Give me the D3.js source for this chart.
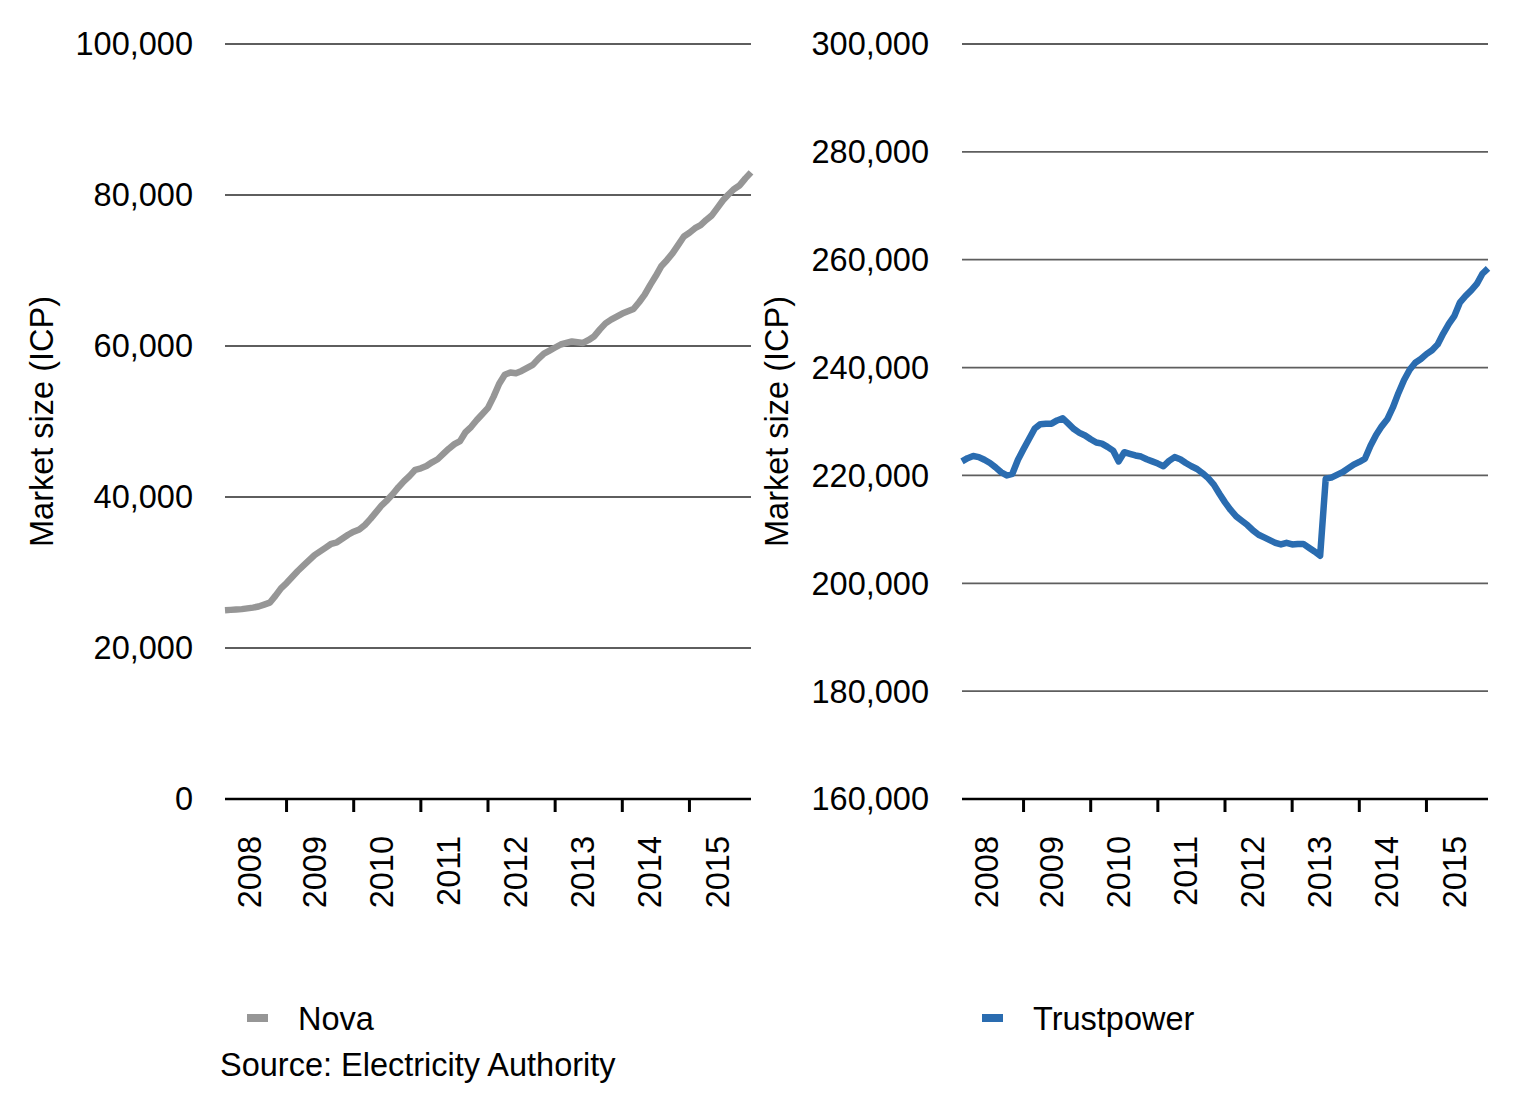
<!DOCTYPE html>
<html>
<head>
<meta charset="utf-8">
<script src="https://cdn.jsdelivr.net/npm/d3@7"></script>
<style>
  html, body { margin: 0; padding: 0; background: #ffffff; }
  svg { display: block; }
  text { font-family: "Liberation Sans", Arial, Helvetica, sans-serif; fill: #000; }
</style>
</head>
<body>
<svg id="chart" width="1517" height="1108"></svg>
<script>
// ---------------- DATA ----------------
// Monthly observations, Feb 2008 .. Dec 2015 (95 months)
const startMonth = new Date(2008, 1, 1);
const endMonthExclusive = new Date(2016, 0, 1);
const years = [2008, 2009, 2010, 2011, 2012, 2013, 2014, 2015];

const novaTicks = [0, 20000, 40000, 60000, 80000, 100000];
const trustTicks = [160000, 180000, 200000, 220000, 240000, 260000, 280000, 300000];

const novaValues = [
  25000,25050,25100,25150,25250,25350,25500,25750,26000,26900,
  27900,28600,29400,30200,30900,31600,32300,32800,33300,33800,
  34000,34500,35000,35400,35700,36300,37100,38000,38900,39600,
  40400,41300,42100,42800,43600,43800,44100,44600,45000,45700,
  46400,47000,47400,48600,49300,50200,51000,51800,53300,55000,
  56200,56500,56400,56700,57100,57500,58300,59000,59400,59800,
  60200,60400,60600,60500,60400,60800,61300,62200,63000,63500,
  63900,64300,64600,64900,65800,66800,68100,69300,70600,71400,
  72300,73400,74500,75000,75600,76000,76700,77300,78300,79300,
  80100,80800,81300,82200,83000
];

const trustValues = [
  222600,223200,223600,223400,222900,222300,221500,220600,220000,220300,
  222900,224900,226800,228700,229500,229600,229600,230200,230600,229600,
  228600,227900,227400,226700,226100,225900,225300,224600,222600,224300,
  224000,223700,223500,223000,222600,222200,221700,222700,223400,223000,
  222300,221700,221200,220400,219500,218300,216600,215000,213600,212400,
  211600,210800,209800,209000,208500,208000,207500,207200,207500,207200,
  207300,207300,206600,205900,205100,219400,219600,220100,220600,221300,
  222000,222500,223100,225500,227500,229100,230400,232600,235300,237700,
  239600,240900,241600,242500,243200,244300,246300,248100,249600,252100,
  253300,254300,255500,257400,258400
];

const seriesNames = ["Nova", "Trustpower"];
const sourceText = "Source: Electricity Authority";
const yTitle = "Market size (ICP)";

// ---------------- DRAW ----------------
const months = d3.timeMonth.range(startMonth, endMonthExclusive);
const svg = d3.select("#chart");
const FONT = 32.5;
const fmt = d3.format(",");

function drawPanel(opt) {
  const g = svg.append("g");
  const x = d3.scaleLinear().domain([0, months.length - 1]).range([opt.x0, opt.x1]);
  const y = d3.scaleLinear().domain(opt.domain).range([799, 44]);

  // gridlines
  g.selectAll("line.grid").data(opt.ticks.filter(t => t !== opt.domain[0]))
    .join("line")
    .attr("x1", opt.x0).attr("x2", opt.x1)
    .attr("y1", d => y(d)).attr("y2", d => y(d))
    .attr("stroke", "#5e5e5e").attr("stroke-width", 1.8);

  // y tick labels
  g.selectAll("text.ylab").data(opt.ticks)
    .join("text")
    .attr("x", opt.labelX).attr("y", d => y(d))
    .attr("dy", "0.35em")
    .attr("text-anchor", "end")
    .style("font-size", FONT + "px")
    .text(d => fmt(d));

  // y title
  g.append("text")
    .attr("transform", `translate(${opt.titleX},${(44 + 799) / 2}) rotate(-90)`)
    .attr("text-anchor", "middle")
    .attr("dy", "0.35em")
    .style("font-size", FONT + "px")
    .text(yTitle);

  // x axis line
  g.append("line")
    .attr("x1", opt.x0).attr("x2", opt.x1)
    .attr("y1", y(opt.domain[0])).attr("y2", y(opt.domain[0]))
    .attr("stroke", "#000").attr("stroke-width", 2.5);

  // year ticks at January
  const janIdx = months.map((m, i) => m.getMonth() === 0 ? i : -1).filter(i => i > 0);
  g.selectAll("line.tick").data(janIdx)
    .join("line")
    .attr("x1", d => x(d)).attr("x2", d => x(d))
    .attr("y1", 799).attr("y2", 812)
    .attr("stroke", "#000").attr("stroke-width", 3);

  // year labels centred under each year's months
  g.selectAll("text.year").data(years)
    .join("text")
    .attr("transform", yr => {
      const idx = months.map((m, i) => m.getFullYear() === yr ? i : -1).filter(i => i >= 0);
      const mid = (idx[0] + idx[idx.length - 1]) / 2;
      return `translate(${x(mid) - 3},836) rotate(-90)`;
    })
    .attr("text-anchor", "end")
    .attr("dy", "0.35em")
    .style("font-size", FONT + "px")
    .text(d => d);

  // line
  const line = d3.line().x((d, i) => x(i)).y(d => y(d));
  g.append("path")
    .datum(opt.values)
    .attr("d", line)
    .attr("fill", "none")
    .attr("stroke", opt.color)
    .attr("stroke-width", 6.5)
    .attr("stroke-linejoin", "round");

  // legend
  g.append("rect")
    .attr("x", opt.legendX).attr("y", 1014)
    .attr("width", 21).attr("height", 8)
    .attr("fill", opt.color);
  g.append("text")
    .attr("x", opt.legendX + 51).attr("y", 1030)
    .style("font-size", FONT + "px")
    .text(opt.name);
}

drawPanel({
  x0: 225, x1: 751, domain: [0, 100000], ticks: novaTicks,
  values: novaValues, color: "#969696", labelX: 193, titleX: 42,
  legendX: 247, name: seriesNames[0]
});

drawPanel({
  x0: 962, x1: 1488, domain: [160000, 300000], ticks: trustTicks,
  values: trustValues, color: "#2a6cb0", labelX: 929, titleX: 777,
  legendX: 982, name: seriesNames[1]
});

svg.append("text")
  .attr("x", 220).attr("y", 1076)
  .style("font-size", FONT + "px")
  .text(sourceText);
</script>
</body>
</html>
